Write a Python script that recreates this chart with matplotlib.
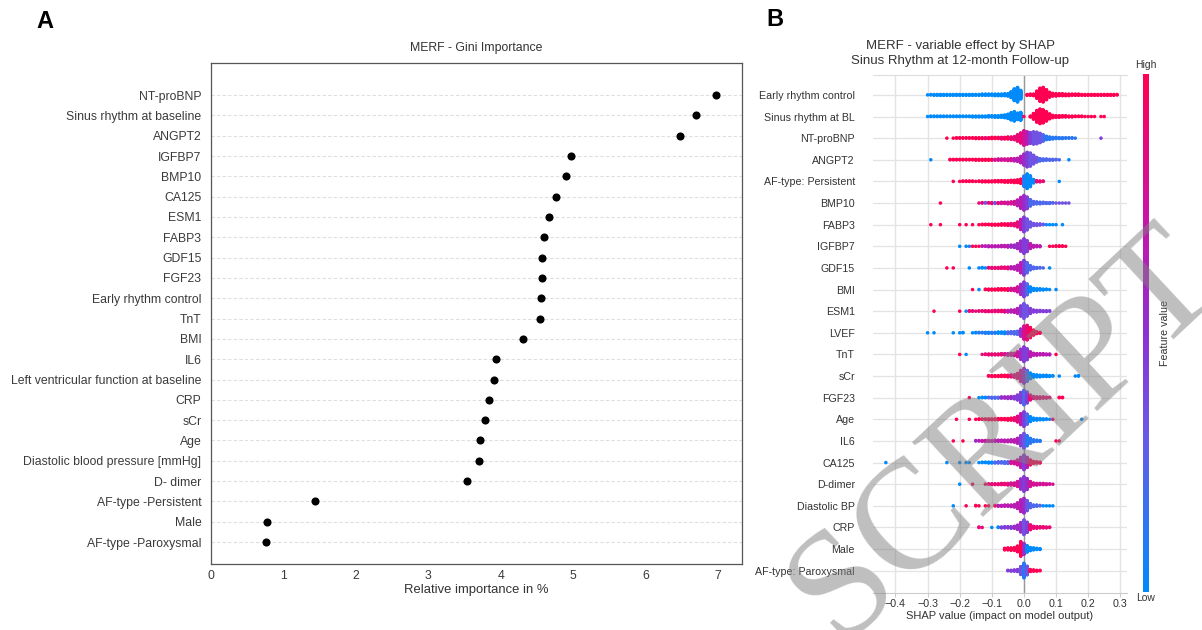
import numpy as np
import matplotlib
matplotlib.use("Agg")
import matplotlib.pyplot as plt
from matplotlib.colors import LinearSegmentedColormap
from matplotlib.cm import ScalarMappable

plt.rcParams['font.family'] = ['Liberation Sans', 'DejaVu Sans']

# ---------------- panel A: MERF Gini importance (top to bottom) ----------------
gini_features = ["NT-proBNP", "Sinus rhythm at baseline", "ANGPT2", "IGFBP7", "BMP10",
                 "CA125", "ESM1", "FABP3", "GDF15", "FGF23", "Early rhythm control", "TnT",
                 "BMI", "IL6", "Left ventricular function at baseline", "CRP", "sCr", "Age",
                 "Diastolic blood pressure [mmHg]", "D- dimer", "AF-type -Persistent", "Male",
                 "AF-type -Paroxysmal"]
gini_values = [6.97, 6.69, 6.47, 4.97, 4.90, 4.76, 4.67, 4.60, 4.57, 4.57, 4.56, 4.54,
               4.30, 3.94, 3.91, 3.84, 3.78, 3.71, 3.70, 3.54, 1.44, 0.77, 0.76]

# ---------------- panel B: SHAP beeswarm, read off as 0.01-wide bins ----------------
# per row: centre of first bin, number of points per bin, feature value per bin (0=low .. 9=high)
shap_features = ["Early rhythm control", "Sinus rhythm at BL", "NT-proBNP", "ANGPT2",
                 "AF-type: Persistent", "BMP10", "FABP3", "IGFBP7", "GDF15", "BMI", "ESM1",
                 "LVEF", "TnT", "sCr", "FGF23", "Age", "IL6", "CA125", "D-dimer",
                 "Diastolic BP", "CRP", "Male", "AF-type: Paroxysmal"]
shap_start = [-0.30, -0.30, -0.24, -0.29, -0.22, -0.26, -0.29, -0.20, -0.24, -0.16, -0.28,
              -0.30, -0.20, -0.11, -0.17, -0.21, -0.22, -0.43, -0.20, -0.22, -0.14, -0.06, -0.05]
shap_counts = [
    [1, 2, 3, 3, 3, 3, 3, 3, 3, 3, 3, 3, 3, 3, 3, 3, 3, 4, 4, 4, 4, 5, 5, 5, 6, 7, 16, 32, 40, 24,
     0, 3, 4, 5, 20, 36, 40, 28, 14, 8, 7, 6, 6, 5, 5, 4, 4, 4, 3, 3, 3, 3, 3, 3, 3, 3, 3, 3, 3, 2],
    [1, 2, 2, 2, 2, 2, 2, 2, 2, 2, 2, 2, 2, 2, 3, 3, 3, 3, 3, 4, 4, 5, 5, 6, 8, 12, 20, 26, 18, 22,
     1, 0, 3, 16, 32, 40, 36, 26, 14, 7, 5, 5, 4, 4, 3, 3, 2, 2, 2, 1, 1, 1, 1, 0, 1, 1],
    [1, 0, 1, 2, 2, 2, 2, 2, 2, 3, 3, 3, 3, 3, 4, 4, 4, 5, 5, 6, 7, 9, 18, 28, 40, 34, 30, 34, 32, 26,
     18, 10, 7, 5, 4, 3, 3, 2, 2, 2, 1, 0, 0, 0, 0, 0, 0, 0, 1],
    [1, 0, 0, 0, 0, 0, 2, 2, 2, 2, 2, 2, 2, 2, 3, 3, 3, 3, 3, 3, 3, 4, 4, 4, 5, 6, 7, 9, 18, 30,
     40, 36, 24, 13, 7, 5, 4, 3, 3, 2, 1, 0, 0, 1],
    [1, 0, 1, 2, 2, 2, 2, 1, 2, 3, 3, 3, 3, 4, 4, 4, 5, 5, 6, 7, 8, 12, 28, 40, 30, 10, 4, 3, 2, 0,
     0, 0, 0, 1],
    [1, 0, 0, 0, 0, 0, 0, 0, 0, 0, 0, 0, 1, 2, 2, 2, 3, 3, 3, 4, 4, 5, 6, 8, 16, 30, 40, 32, 18, 8,
     6, 5, 4, 3, 3, 2, 1, 1, 1, 1, 1],
    [1, 0, 0, 1, 0, 0, 0, 0, 0, 1, 0, 1, 0, 1, 0, 1, 2, 2, 2, 3, 3, 3, 4, 4, 5, 6, 7, 14, 28, 40,
     30, 14, 6, 5, 4, 2, 1, 1, 1, 1, 0, 1],
    [1, 0, 1, 1, 1, 1, 1, 2, 2, 3, 3, 3, 3, 4, 4, 5, 6, 7, 14, 28, 40, 30, 14, 5, 4, 3, 0, 0, 1, 1,
     2, 2, 2, 1],
    [1, 0, 1, 0, 0, 0, 0, 1, 0, 0, 1, 2, 1, 2, 3, 3, 3, 4, 4, 5, 6, 7, 14, 28, 40, 28, 12, 5, 3, 2,
     1, 0, 1],
    [1, 0, 1, 0, 2, 3, 3, 3, 4, 4, 4, 5, 6, 7, 14, 28, 40, 30, 14, 6, 5, 4, 3, 2, 1, 0, 1],
    [1, 0, 0, 0, 0, 0, 0, 0, 1, 0, 1, 2, 2, 1, 2, 2, 3, 3, 3, 4, 4, 4, 5, 5, 6, 7, 14, 28, 40, 28,
     14, 6, 5, 4, 3, 3, 2],
    [1, 0, 1, 0, 0, 0, 0, 0, 1, 0, 1, 2, 0, 0, 1, 2, 2, 2, 3, 3, 3, 3, 4, 4, 5, 5, 6, 7, 9, 20,
     36, 40, 28, 14, 6, 3],
    [1, 0, 1, 0, 0, 0, 0, 1, 2, 3, 3, 3, 3, 4, 4, 5, 6, 7, 14, 28, 40, 30, 14, 6, 5, 4, 4, 3, 3, 0,
     1],
    [2, 3, 3, 3, 4, 4, 5, 6, 7, 14, 30, 40, 30, 16, 8, 6, 5, 4, 4, 3, 2, 0, 1, 0, 0, 0, 0, 1, 2],
    [1, 0, 0, 1, 2, 2, 2, 3, 3, 3, 4, 4, 5, 6, 7, 14, 28, 40, 30, 14, 6, 5, 5, 4, 3, 2, 0, 0, 2, 2],
    [1, 0, 0, 0, 1, 0, 1, 2, 2, 2, 3, 3, 3, 4, 4, 4, 5, 6, 8, 16, 30, 40, 28, 14, 6, 5, 4, 3, 2, 1,
     1, 0, 0, 0, 0, 0, 0, 0, 0, 1],
    [1, 0, 0, 1, 0, 0, 0, 2, 2, 3, 3, 3, 3, 4, 4, 4, 5, 5, 6, 7, 14, 28, 40, 28, 14, 6, 4, 3, 0, 0,
     0, 0, 1, 1],
    [1, 0, 0, 0, 0, 0, 0, 0, 0, 0, 0, 0, 0, 0, 0, 0, 0, 0, 0, 1, 0, 0, 0, 1, 0, 1, 1, 0, 0, 1,
     2, 2, 3, 3, 3, 4, 4, 5, 5, 6, 7, 14, 28, 40, 28, 14, 6, 4, 3],
    [1, 0, 0, 0, 1, 0, 0, 0, 1, 2, 3, 3, 3, 4, 4, 5, 6, 7, 14, 28, 40, 30, 14, 6, 5, 4, 4, 3, 2, 1],
    [1, 0, 0, 0, 1, 0, 0, 2, 1, 0, 1, 1, 0, 2, 3, 3, 4, 4, 5, 7, 16, 32, 40, 28, 12, 5, 4, 2, 1, 1,
     1, 1],
    [2, 1, 0, 0, 1, 0, 2, 3, 4, 4, 5, 6, 12, 26, 40, 28, 14, 6, 5, 4, 4, 3, 2],
    [5, 6, 7, 8, 16, 40, 30, 18, 9, 6, 4, 3],
    [2, 3, 4, 6, 22, 40, 24, 6, 4, 3, 2],
]
shap_colors = [
    "0000000000 0000000000 0000000000 0999999999 9999999999 9999999999",
    "0000000000 0000000000 0000000000 9999999999 9999999999 999999",
    "9999999999 9989999899 8888764333 2111111111 100000004",
    "0000009999 9999999999 7777776665 4333222222 2000",
    "9999999999 9999999999 9910008880 0000",
    "9999999999 9988388387 7777665422 2222223333 3",
    "9999999999 9999999999 9999988864 3333330000 00",
    "0001999666 6666665555 4466660099 9999",
    "9090000000 0008888888 6666422222 200",
    "9000999999 9977754200 0000000",
    "9000000090 0888888888 8886666433 4444444",
    "0000000000 0000001110 1100022225 789999",
    "9000000888 8888777775 4466666660 9",
    "9999999888 7520000000 000000000",
    "9000002222 5555444248 8888880099",
    "9999999999 9999999988 6420000000 9000000000",
    "9009000566 7676666666 6431111100 0099",
    "0000000000 0000000000 0000000000 0000222227 776469999",
    "0000900098 8888887775 4577777777",
    "0000900990 9909666666 6653222200 00",
    "8800000444 4555348888 888",
    "999999500000",
    "44443139999",
]
shap_ticks = [-0.4, -0.3, -0.2, -0.1, 0.0, 0.1, 0.2, 0.3]

BIN = 0.01
W, H = 1202, 630

# SHAP red-blue colour scale
shap_cmap = LinearSegmentedColormap.from_list(
    "shap_rb", [(0.0, "#008afb"), (0.3, "#6a5ae6"), (0.5, "#8c32d2"),
                (0.72, "#c814a8"), (1.0, "#ff0052")])

fig = plt.figure(figsize=(W / 100, H / 100), dpi=100)

# ================= panel A =================
axA = fig.add_axes([211 / W, 1 - 564 / H, 531 / W, 501 / H])
ypos = np.arange(len(gini_features))[::-1]
axA.scatter(gini_values, ypos, s=34, color="black", zorder=3, linewidths=0)
axA.set_yticks(ypos)
axA.set_yticklabels(gini_features, fontsize=8.8)
for lab in axA.get_yticklabels():
    lab.set_color("black" if lab.get_text() == "Early rhythm control" else "#3a3a3a")
axA.yaxis.grid(True, linestyle=(0, (3, 2)), color="#dedede", linewidth=0.8)
axA.set_axisbelow(True)
axA.set_xlim(0, 7.33)
axA.set_ylim(-1.08, 23.58)
axA.set_xticks(range(8))
axA.tick_params(axis="both", length=0, labelsize=8.8, colors="#3a3a3a")
axA.tick_params(axis="y", pad=7)
axA.tick_params(axis="x", pad=4)
for sp in axA.spines.values():
    sp.set_color("#555555")
    sp.set_linewidth(0.9)
axA.set_xlabel("Relative importance in %", fontsize=9.4, color="#333333", labelpad=2)
axA.set_title("MERF - Gini Importance", fontsize=8.8, color="#333333", pad=9)

# ================= panel B =================
axB = fig.add_axes([873 / W, 1 - 593 / H, 254 / W, 518 / H])
n_rows = len(shap_features)
row_height = 0.4
for i in range(n_rows):
    pos = n_rows - 1 - i
    cols = shap_colors[i].replace(" ", "")
    counts = shap_counts[i]
    assert len(cols) == len(counts), shap_features[i]
    xs, ys, cs = [], [], []
    # beeswarm layout as in shap: points of a bin are stacked alternately up and down
    for b, (n, c) in enumerate(zip(counts, cols)):
        xv = shap_start[i] + BIN * b
        for layer in range(n):
            xs.append(xv)
            ys.append(np.ceil(layer / 2) * ((layer % 2) * 2 - 1))
            cs.append(int(c) / 9)
    ys = np.array(ys)
    ys *= 0.9 * (row_height / np.max(ys + 1))
    axB.axhline(pos, color="#e3e3e3", lw=0.9, zorder=0)
    axB.scatter(xs, pos + ys, c=cs, cmap=shap_cmap, vmin=0, vmax=1, s=6.5,
                linewidths=0, zorder=3)

axB.axvline(0, color="#999999", lw=1.0, zorder=1)
axB.set_xlim(-0.470, 0.321)
axB.set_ylim(-1.03, 22.92)
axB.set_xticks(shap_ticks)
axB.set_xticklabels(["\u22120.4", "\u22120.3", "\u22120.2", "\u22120.1", "0.0", "0.1", "0.2", "0.3"])
axB.xaxis.grid(True, color="#e3e3e3", lw=1.0, zorder=0)
axB.set_axisbelow(True)
axB.set_yticks(np.arange(n_rows)[::-1])
axB.set_yticklabels(shap_features, fontsize=7.7, color="#333333")
axB.tick_params(axis="y", length=0, pad=13)
axB.tick_params(axis="x", length=3, color="#cccccc", labelsize=7.7, labelcolor="#333333", pad=1.5)
axB.spines["left"].set_visible(False)
axB.spines["right"].set_visible(False)
axB.spines["top"].set_color("#dddddd")
axB.spines["bottom"].set_color("#cccccc")
axB.set_xlabel("SHAP value (impact on model output)", fontsize=8, color="#333333", labelpad=1)
fig.text(960 / W, 1 - 53.5 / H, "MERF - variable effect by SHAP\nSinus Rhythm at 12-month Follow-up",
         ha="center", va="center", fontsize=9.5, color="#333333", linespacing=1.3)

# colour bar
cax = fig.add_axes([1143 / W, 1 - 592 / H, 6 / W, 518 / H])
cb = fig.colorbar(ScalarMappable(cmap=shap_cmap), cax=cax)
cb.outline.set_visible(False)
cb.set_ticks([])
fig.text(1146 / W, 1 - 65 / H, "High", ha="center", va="center", fontsize=7.5, color="#333333")
fig.text(1146 / W, 1 - 598 / H, "Low", ha="center", va="center", fontsize=7.5, color="#333333")
fig.text(1165 / W, 1 - 333 / H, "Feature value", ha="center", va="center", rotation=90,
         fontsize=7.7, color="#333333")

# panel letters
fig.text(36 / W, 1 - 28 / H, "A", fontsize=17, fontweight="bold", va="baseline")
fig.text(766 / W, 1 - 26 / H, "B", fontsize=17, fontweight="bold", va="baseline")

# watermark
fig.text(1005 / W, 1 - 435 / H, "SCRIPT", rotation=43, fontsize=112, family="Liberation Serif",
         color="#808080", alpha=0.5, ha="center", va="center", zorder=10)

fig.savefig("out.png", dpi=100)
